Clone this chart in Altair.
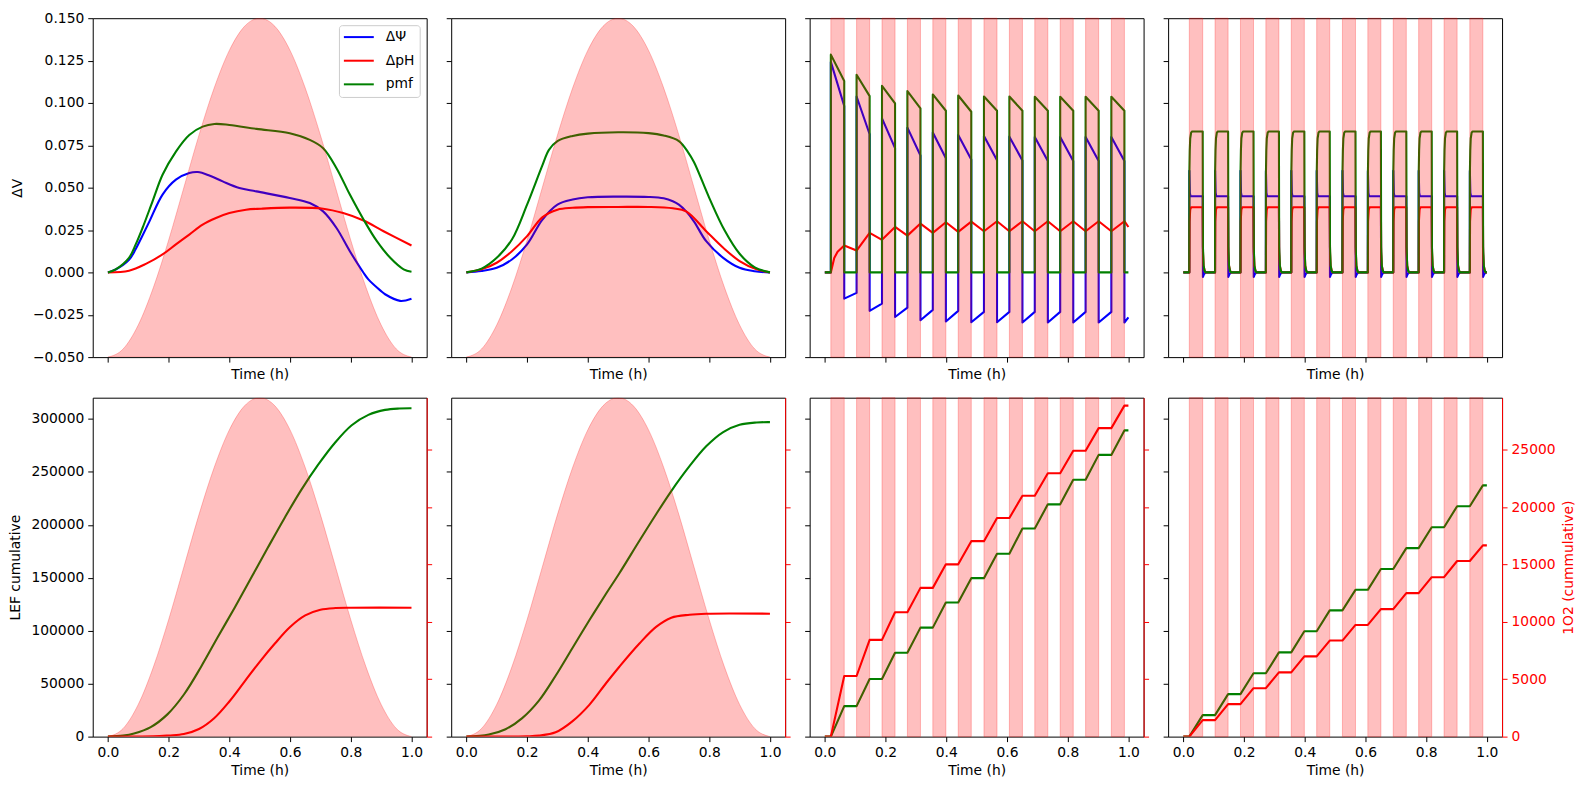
import altair as alt
import pandas as pd

# ---------------- data ----------------
# light intensity (fraction of the axis height) for the day-like runs
bell_t = [0.0, 0.05, 0.1, 0.15, 0.2, 0.25, 0.3, 0.35, 0.4, 0.45, 0.5,
          0.55, 0.6, 0.65, 0.7, 0.75, 0.8, 0.85, 0.9, 0.95, 1.0]
bell_f = [0.0, 0.024, 0.095, 0.206, 0.345, 0.5, 0.655, 0.794, 0.905, 0.976, 1.0,
          0.976, 0.905, 0.794, 0.655, 0.5, 0.345, 0.206, 0.095, 0.024, 0.0]

# panel 1 (top)
p1_psi_t = [0, 0.0255, 0.0695, 0.0916, 0.108, 0.136, 0.18, 0.224, 0.268, 0.296, 0.334, 0.378,
            0.433, 0.489, 0.599, 0.665, 0.709, 0.753, 0.797, 0.842, 0.858, 0.897, 0.913, 0.9625, 1.0]
p1_psi = [0, 0.0017, 0.0074, 0.0138, 0.0196, 0.0298, 0.0459, 0.0547, 0.0586, 0.0592, 0.0572, 0.0537,
          0.0498, 0.0478, 0.0439, 0.0409, 0.036, 0.0262, 0.0125, -0.0002, -0.0041, -0.0106, -0.0129, -0.0168, -0.0155]
p1_ph_t = [0, 0.0695, 0.125, 0.18, 0.224, 0.268, 0.312, 0.356, 0.40, 0.455, 0.505, 0.599, 0.709,
           0.775, 0.842, 0.908, 1.0]
p1_ph = [0, 0.0010, 0.0050, 0.0106, 0.0165, 0.0223, 0.0282, 0.0321, 0.035, 0.037, 0.0376, 0.0382, 0.0376,
         0.035, 0.0306, 0.0243, 0.0159]
p1_pmf_t = [0, 0.0255, 0.0695, 0.0916, 0.114, 0.147, 0.18, 0.224, 0.268, 0.312, 0.351, 0.40, 0.489,
            0.599, 0.665, 0.709, 0.753, 0.797, 0.842, 0.886, 0.93, 0.974, 1.0]
p1_pmf = [0, 0.0018, 0.0086, 0.0165, 0.0262, 0.0419, 0.0576, 0.0713, 0.0811, 0.086, 0.0876, 0.087, 0.0847,
          0.0821, 0.0782, 0.0733, 0.0615, 0.0459, 0.0312, 0.0184, 0.0086, 0.0018, 0.0004]
# panel 1 (bottom)
p1_lef_t = [0, 0.05, 0.086, 0.141, 0.196, 0.251, 0.307, 0.362, 0.417, 0.472, 0.527, 0.582, 0.637,
            0.692, 0.748, 0.803, 0.858, 0.913, 0.96, 1.0]
p1_lef = [0, 1000, 3000, 9000, 21000, 40000, 66000, 94000, 121500, 150000, 178500, 206500, 233000,
          256500, 277500, 294000, 303800, 308500, 309800, 310000]
p1_o2_t = [0, 0.15, 0.2, 0.25, 0.3, 0.35, 0.4, 0.45, 0.5, 0.55, 0.6, 0.65, 0.7, 0.75, 0.8, 1.0]
p1_o2 = [0, 20, 100, 220, 660, 1600, 3060, 4790, 6520, 8110, 9550, 10560, 11050, 11200, 11230, 11230]

# panel 2 (top)
p2_psi_t = [0, 0.05, 0.1, 0.15, 0.2, 0.25, 0.3, 0.35, 0.4, 0.5, 0.6, 0.65, 0.68, 0.7, 0.724, 0.75,
            0.79, 0.846, 0.9, 0.95, 1.0]
p2_psi = [0, 0.0008, 0.0027, 0.0076, 0.0165, 0.031, 0.040, 0.043, 0.0443, 0.0447, 0.0445, 0.0437, 0.042,
          0.040, 0.036, 0.030, 0.0184, 0.0086, 0.0027, 0.0007, 0]
p2_ph_t = [0, 0.05, 0.1, 0.15, 0.2, 0.25, 0.3, 0.35, 0.4, 0.5, 0.6, 0.68, 0.724, 0.79, 0.846, 0.9, 0.956, 1.0]
p2_ph = [0, 0.0018, 0.0057, 0.0125, 0.0214, 0.0325, 0.037, 0.0381, 0.0385, 0.0386, 0.0386, 0.0378, 0.036,
         0.0243, 0.0145, 0.0067, 0.0018, 0]
p2_pmf_t = [0, 0.05, 0.1, 0.15, 0.2, 0.25, 0.272, 0.3, 0.35, 0.4, 0.5, 0.6, 0.65, 0.7, 0.73, 0.75, 0.8,
            0.85, 0.9, 0.95, 1.0]
p2_pmf = [0, 0.0022, 0.0086, 0.0194, 0.040, 0.063, 0.0723, 0.0775, 0.0805, 0.0819, 0.0827, 0.0822, 0.0808,
          0.0775, 0.071, 0.065, 0.044, 0.025, 0.011, 0.003, 0]
# panel 2 (bottom)
p2_lef_t = [0, 0.074, 0.129, 0.184, 0.239, 0.294, 0.349, 0.405, 0.46, 0.504, 0.57, 0.625, 0.675, 0.735,
            0.79, 0.846, 0.9, 0.956, 1.0]
p2_lef = [0, 2000, 7000, 17500, 34000, 57500, 83500, 109830, 134860, 154260, 184920, 209960, 231860, 255330,
          274100, 287560, 294440, 296630, 296940]
p2_o2_t = [0, 0.15, 0.2, 0.239, 0.294, 0.349, 0.405, 0.46, 0.504, 0.57, 0.625, 0.675, 0.735, 0.79, 1.0]
p2_o2 = [0, 10, 30, 87, 375, 1330, 2770, 4650, 6090, 8110, 9560, 10360, 10620, 10710, 10710]

# light pulses (panels 3 and 4)
pulse_on = [0.0198, 0.1046, 0.1883, 0.2720, 0.3557, 0.4394, 0.5242, 0.6079, 0.6916, 0.7753, 0.8590, 0.9438]
pulse_off = [0.0639, 0.1476, 0.2313, 0.3150, 0.3987, 0.4824, 0.5672, 0.6509, 0.7346, 0.8183, 0.9020, 0.9868]

# panel 3 (top) per pulse
p3_pmf_peak = [0.1285, 0.1166, 0.1101, 0.1070, 0.1050, 0.1044, 0.1038, 0.1038, 0.1036, 0.1036, 0.1036, 0.1036]
p3_pmf_end = [0.1130, 0.1040, 0.0997, 0.0968, 0.0954, 0.0948, 0.0954, 0.0954, 0.0954, 0.0954, 0.0954, 0.0954]
p3_psi_peak = [0.1242, 0.1038, 0.0909, 0.0854, 0.0825, 0.0811, 0.0805, 0.0801, 0.0799, 0.0799, 0.0799, 0.0799]
p3_psi_end = [0.0982, 0.0815, 0.0733, 0.0690, 0.0674, 0.0666, 0.0662, 0.0660, 0.0658, 0.0658, 0.0658, 0.0658]
p3_psi_dip = [-0.0155, -0.0227, -0.0263, -0.0282, -0.0290, -0.0294, -0.0294, -0.0296, -0.0296, -0.0296,
              -0.0296, -0.0296]
p3_psi_pre = [-0.0121, -0.0184, -0.0208, -0.0221, -0.0227, -0.0233, -0.0233, -0.0233, -0.0233, -0.0233, -0.0233]
p3_psi_last = -0.0265
p3_ph_first_t = [0.031, 0.042]
p3_ph_first = [0.0085, 0.0122]
p3_ph_off = [0.0159, 0.0233, 0.0268, 0.0288, 0.0296, 0.0300, 0.0302, 0.0302, 0.0302, 0.0302, 0.0302, 0.0302]
p3_ph_on = [0.0129, 0.0192, 0.0217, 0.0233, 0.0239, 0.0243, 0.0243, 0.0243, 0.0243, 0.0243, 0.0243]
p3_ph_last = 0.0268
# panel 3 (bottom) plateau after each pulse
p3_lef = [28800, 54400, 79200, 102900, 126700, 149600, 172700, 196500, 219300, 242500, 266000, 289100]
p3_o2 = [5280, 8430, 10830, 12960, 15010, 17030, 19050, 20990, 22950, 24910, 26880, 28840]

# panel 4 (top) shape of one pulse (time after switch-on / switch-off)
p4_pmf_rise_dt = [0.0, 0.0002, 0.0015, 0.003, 0.006, 0.009]
p4_pmf_rise = [0.0, 0.058, 0.072, 0.079, 0.0825, 0.0831]
p4_pmf_fall_dt = [0.0, 0.0008, 0.003, 0.006, 0.01]
p4_pmf_fall = [0.0831, 0.015, 0.004, 0.001, 0.0]
p4_psi_rise_dt = [0.0, 0.0002, 0.0018, 0.004]
p4_psi_rise = [0.0, 0.060, 0.047, 0.0449]
p4_psi_fall_dt = [0.0, 0.0008, 0.004, 0.01]
p4_psi_fall = [0.0449, -0.0027, -0.0012, 0.0]
p4_ph_rise_dt = [0.0, 0.0008, 0.003, 0.006]
p4_ph_rise = [0.0, 0.030, 0.037, 0.0384]
p4_ph_fall_dt = [0.0, 0.001, 0.003, 0.008]
p4_ph_fall = [0.0384, 0.012, 0.004, 0.0]
# panel 4 (bottom)
p4_lef = [20300, 40100, 59800, 79500, 99500, 119200, 138600, 158300, 178000, 197700, 217500, 237200]
p4_o2 = [1440, 2830, 4220, 5600, 6990, 8370, 9730, 11110, 12500, 13890, 15300, 16660]

series_names = ["ΔΨ", "ΔpH", "pmf"]
x_ticks = [0.0, 0.2, 0.4, 0.6, 0.8, 1.0]
v_ticks = [-0.05, -0.025, 0.0, 0.025, 0.05, 0.075, 0.1, 0.125, 0.15]
lef_ticks = [0, 50000, 100000, 150000, 200000, 250000, 300000]
o2_ticks = [0, 5000, 10000, 15000, 20000, 25000]

# ---------------- styling ----------------
FONT = "DejaVu Sans"
FS = 13.9
W, H = 335, 340
BLUE, RED, GREEN = "#0000ff", "#ff0000", "#008000"
SMOOTH = "catmull-rom"


def frame(ts, vs, name=None):
    d = pd.DataFrame({"t": ts, "v": vs})
    d["i"] = range(len(d))
    if name is not None:
        d["s"] = name
    return d


def steps(levels):
    t, v = [0.0, pulse_on[0]], [0, 0]
    for k in range(len(pulse_on)):
        if k > 0:
            t.append(pulse_on[k]); v.append(levels[k - 1])
        t.append(pulse_off[k]); v.append(levels[k])
    t.append(1.0); v.append(levels[-1])
    return frame(t, v)


def p3_pmf_series():
    t, v = [0.0], [0.0]
    for k in range(len(pulse_on)):
        t += [pulse_on[k], pulse_on[k], pulse_off[k], pulse_off[k]]
        v += [0.0, p3_pmf_peak[k], p3_pmf_end[k], 0.0]
    t.append(1.0); v.append(0.0)
    return frame(t, v)


def p3_psi_series():
    t, v = [0.0, pulse_on[0]], [0.0, 0.0]
    for k in range(len(pulse_on)):
        if k > 0:
            t.append(pulse_on[k]); v.append(p3_psi_pre[k - 1])
        t += [pulse_on[k], pulse_off[k], pulse_off[k]]
        v += [p3_psi_peak[k], p3_psi_end[k], p3_psi_dip[k]]
    t.append(1.0); v.append(p3_psi_last)
    return frame(t, v)


def p3_ph_series():
    t = [0.0, pulse_on[0]] + p3_ph_first_t + [pulse_off[0]]
    v = [0.0, 0.0] + p3_ph_first + [p3_ph_off[0]]
    for k in range(1, len(pulse_on)):
        t += [pulse_on[k], pulse_off[k]]
        v += [p3_ph_on[k - 1], p3_ph_off[k]]
    t.append(1.0); v.append(p3_ph_last)
    return frame(t, v)


def p4_series(rdt, rv, fdt, fv):
    t, v = [0.0], [0.0]
    for k in range(len(pulse_on)):
        for d, val in zip(rdt, rv):
            t.append(pulse_on[k] + d); v.append(val)
        for d, val in zip(fdt, fv):
            t.append(pulse_off[k] + d); v.append(val)
    t.append(1.0); v.append(0.0)
    return frame(t, v)


bell_df = pd.DataFrame({"t": bell_t, "f": bell_f})
pulse_df = pd.DataFrame({"on": pulse_on, "off": pulse_off})


def xenc(row, field="t"):
    return alt.X(f"{field}:Q",
                 scale=alt.Scale(domain=[-0.05, 1.05], nice=False, zero=False),
                 axis=alt.Axis(values=x_ticks, format=".1f", labels=(row == 1), title="Time (h)",
                               titlePadding=(5 if row == 0 else 4)))


def y_top(col):
    if col == 0:
        ax = alt.Axis(orient="left", values=v_ticks, format=".3f", title="ΔV", titlePadding=8)
    else:
        ax = alt.Axis(orient="left", values=v_ticks, labels=False, title=None)
    return alt.Y("v:Q", scale=alt.Scale(domain=[-0.05, 0.15], nice=False, zero=False), axis=ax)


def y_lef(col):
    if col == 0:
        ax = alt.Axis(orient="left", values=lef_ticks, format="d", title="LEF cumulative", titlePadding=8)
    else:
        ax = alt.Axis(orient="left", values=lef_ticks, labels=False, title=None)
    return alt.Y("v:Q", scale=alt.Scale(domain=[0, 320000], nice=False, zero=False), axis=ax)


def y_o2(col):
    common = dict(orient="right", values=o2_ticks, domain=True, domainColor=RED, domainWidth=1,
                  tickColor=RED, labelColor=RED, titleColor=RED)
    if col == 3:
        ax = alt.Axis(format="d", title="1O2 (cummulative)", titleAngle=270, titleBaseline="top",
                      titlePadding=6, **common)
    else:
        ax = alt.Axis(labels=False, title=None, **common)
    return alt.Y("v:Q", scale=alt.Scale(domain=[0, 29530], nice=False, zero=False), axis=ax)


def line(df, color, row, y, interp):
    return alt.Chart(df).mark_line(color=color, strokeWidth=2.1, interpolate=interp, clip=True,
                                   strokeJoin="round").encode(x=xenc(row), y=y, order="i:Q")


def light_area(row):
    return alt.Chart(bell_df).mark_area(fill=RED, fillOpacity=0.25, stroke=RED, strokeOpacity=0.25,
                                        strokeWidth=1, interpolate="monotone", clip=True).encode(
        x=xenc(row),
        y=alt.Y("f:Q", scale=alt.Scale(domain=[0, 1], nice=False, zero=True), axis=None))


def light_pulses(row):
    return alt.Chart(pulse_df).mark_rect(fill=RED, fillOpacity=0.25, stroke=RED, strokeOpacity=0.25,
                                         strokeWidth=1).encode(x=xenc(row, "on"), x2="off:Q")


# ---------------- top row ----------------
color_scale = alt.Scale(domain=series_names, range=[BLUE, RED, GREEN])
legend = alt.Legend(title=None, orient="top-right", offset=7, padding=5, fillColor="white",
                    strokeColor="#cccccc", cornerRadius=3, symbolType="M-3,0H3", symbolSize=100,
                    symbolStrokeWidth=2, symbolOffset=8, labelOffset=20, rowPadding=8.7,
                    labelFont=FONT, labelFontSize=FS, labelColor="black")


def legend_line(df):
    return alt.Chart(df).mark_line(strokeWidth=2.1, interpolate=SMOOTH, clip=True).encode(
        x=xenc(0), y=y_top(0), order="i:Q",
        color=alt.Color("s:N", scale=color_scale, legend=legend))


top1 = alt.layer(
    alt.layer(legend_line(frame(p1_psi_t, p1_psi, "ΔΨ")),
              legend_line(frame(p1_ph_t, p1_ph, "ΔpH")),
              legend_line(frame(p1_pmf_t, p1_pmf, "pmf"))),
    light_area(0)).resolve_scale(y="independent").properties(width=W, height=H)

top2 = alt.layer(
    alt.layer(line(frame(p2_psi_t, p2_psi), BLUE, 0, y_top(1), SMOOTH),
              line(frame(p2_ph_t, p2_ph), RED, 0, y_top(1), SMOOTH),
              line(frame(p2_pmf_t, p2_pmf), GREEN, 0, y_top(1), SMOOTH)),
    light_area(0)).resolve_scale(y="independent").properties(width=W, height=H)

top3 = alt.layer(
    line(p3_psi_series(), BLUE, 0, y_top(2), "linear"),
    line(p3_ph_series(), RED, 0, y_top(2), "linear"),
    line(p3_pmf_series(), GREEN, 0, y_top(2), "linear"),
    light_pulses(0)).properties(width=W, height=H)

top4 = alt.layer(
    line(p4_series(p4_psi_rise_dt, p4_psi_rise, p4_psi_fall_dt, p4_psi_fall), BLUE, 0, y_top(3), "linear"),
    line(p4_series(p4_ph_rise_dt, p4_ph_rise, p4_ph_fall_dt, p4_ph_fall), RED, 0, y_top(3), "linear"),
    line(p4_series(p4_pmf_rise_dt, p4_pmf_rise, p4_pmf_fall_dt, p4_pmf_fall), GREEN, 0, y_top(3), "linear"),
    light_pulses(0)).properties(width=W, height=H)

# ---------------- bottom row ----------------
bot1 = alt.layer(
    line(frame(p1_lef_t, p1_lef), GREEN, 1, y_lef(0), SMOOTH),
    line(frame(p1_o2_t, p1_o2), RED, 1, y_o2(0), SMOOTH),
    light_area(1)).resolve_scale(y="independent").properties(width=W, height=H)

bot2 = alt.layer(
    line(frame(p2_lef_t, p2_lef), GREEN, 1, y_lef(1), SMOOTH),
    line(frame(p2_o2_t, p2_o2), RED, 1, y_o2(1), SMOOTH),
    light_area(1)).resolve_scale(y="independent").properties(width=W, height=H)

bot3 = alt.layer(
    line(steps(p3_lef), GREEN, 1, y_lef(2), "linear"),
    line(steps(p3_o2), RED, 1, y_o2(2), "linear"),
    light_pulses(1)).resolve_scale(y="independent").properties(width=W, height=H)

bot4 = alt.layer(
    line(steps(p4_lef), GREEN, 1, y_lef(3), "linear"),
    line(steps(p4_o2), RED, 1, y_o2(3), "linear"),
    light_pulses(1)).resolve_scale(y="independent").properties(width=W, height=H)

chart = alt.concat(top1, top2, top3, top4, bot1, bot2, bot3, bot4, columns=4,
                   spacing={"row": 40.7, "column": 24.6}, bounds="flush").resolve_scale(
    color="independent").resolve_legend(color="independent").properties(
    padding={"left": 0, "top": 1, "right": 5, "bottom": 5}
).configure_axis(
    labelFont=FONT, labelFontSize=FS, titleFont=FONT, titleFontSize=FS, titleFontWeight="normal",
    labelColor="black", titleColor="black", tickColor="black", tickSize=5, tickWidth=1,
    domain=False, grid=False, labelPadding=4, labelFlush=False, labelOverlap=False
).configure_view(stroke="black", strokeWidth=1)

chart.save("out.html", embed_options={"renderer": "svg", "actions": False})
